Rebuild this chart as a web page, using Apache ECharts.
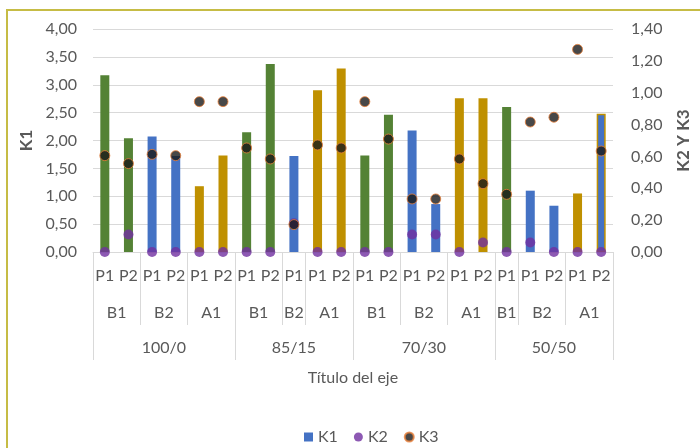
<!DOCTYPE html>
<html>
<head>
<meta charset="utf-8">
<script src="https://cdn.jsdelivr.net/npm/echarts@6/dist/echarts.min.js"></script>
<style>
html,body{margin:0;padding:0;background:#fff;}
#c{width:700px;height:448px;position:relative;}
#frame{position:absolute;left:6px;top:9px;width:800px;height:600px;border:2px solid #C6BC45;pointer-events:none;box-sizing:border-box;}
#wrap{position:relative;width:700px;height:448px;overflow:hidden;}
</style>
</head>
<body>
<div id="wrap"><div id="c"></div><div id="frame"></div></div>
<script>
// Category levels
const pLabels = ['P1','P2','P1','P2','P1','P2', 'P1','P2','P1','P1','P2', 'P1','P2','P1','P2','P1','P2', 'P1','P1','P2','P1','P2'];
const subLabels = ['B1','B1','B2','B2','A1','A1', 'B1','B1','B2','A1','A1', 'B1','B1','B2','B2','A1','A1', 'B1','B2','B2','A1','A1'];
const groupLabels = ['100/0','85/15','70/30','50/50'];
const groupSizes = [6,5,6,5];

// Series values
const k1Values = [3.17,2.04,2.07,1.72,1.18,1.73, 2.15,3.37,1.72,2.90,3.29, 1.73,2.46,2.18,0.86,2.76,2.76, 2.60,1.10,0.83,1.05,2.48];
const k2Values = [0,0.11,0,0,0,0, 0,0,0.18,0,0, 0,0,0.11,0.11,0,0.06, 0,0.06,0,0,0];
const k3Values = [0.605,0.555,0.613,0.605,0.944,0.944, 0.653,0.584,0.172,0.672,0.653, 0.944,0.709,0.333,0.333,0.584,0.429, 0.362,0.816,0.846,1.272,0.634];

// Tick labels
const leftTicks = {min:0,max:4,interval:0.5};
const rightTicks = {min:0,max:1.4,interval:0.2};

const colorBy = {B1:'#548235', B2:'#4472C4', A1:'#BF9000'};
const textColor = '#595959';
const font = 'Lato';

// derive span positions from the labels
const subSpans = [];
(function(){
  let start = 0; let gIdx = 0; let gEnd = groupSizes[0];
  for (let i = 1; i <= subLabels.length; i++) {
    if (i === subLabels.length || subLabels[i] !== subLabels[i-1] || i === gEnd) {
      subSpans.push({start:start, end:i, label:subLabels[start]});
      start = i;
    }
    if (i === gEnd) { gIdx++; gEnd += groupSizes[gIdx] || 0; }
  }
})();
const groupSpans = [];
(function(){
  let s = 0;
  groupSizes.forEach((n,i)=>{ groupSpans.push({start:s,end:s+n,label:groupLabels[i]}); s += n; });
})();
const groupBounds = [0].concat(groupSpans.map(g=>g.end));
const subBounds = subSpans.map(s=>s.end).filter(b=>groupBounds.indexOf(b) < 0);
const subCenters = subSpans.map(s=>(s.start+s.end)/2);
const groupCenters = groupSpans.map(g=>(g.start+g.end)/2);
const subLabelAt = {}; subSpans.forEach(s=>{subLabelAt[(s.start+s.end)/2]=s.label;});
const groupLabelAt = {}; groupSpans.forEach(g=>{groupLabelAt[(g.start+g.end)/2]=g.label;});

const n = pLabels.length;
const barData = k1Values.map((v,i)=>{
  const item = {value:v, itemStyle:{color:colorBy[subLabels[i]]}};
  if (i === n-1) item.itemStyle = {color:colorBy.B2, borderColor:colorBy.A1, borderWidth:1.5};
  return item;
});

const fmt = v => (Math.round(v*100)/100).toFixed(2).replace('.',',');
const gridLine = '#D9D9D9';

const chart = echarts.init(document.getElementById('c'));
chart.setOption({
  animation:false,
  textStyle:{fontFamily:font},
  grid:{left:93, right:81, top:29, bottom:196, containLabel:false},
  legend:{
    left:299, top:424, itemWidth:9, itemHeight:9, itemGap:16,
    textStyle:{color:textColor, fontSize:16, fontFamily:font},
    data:[{name:'K1', icon:'rect'},{name:'K2', icon:'circle'},{name:'K3', icon:'circle'}]
  },
  xAxis:[
    {type:'category', data:pLabels, position:'bottom',
     axisLine:{show:true, onZero:false, lineStyle:{color:gridLine, width:1}},
     axisTick:{show:false},
     axisLabel:{color:textColor, fontSize:16, margin:16, interval:0, fontFamily:font}},
    {type:'value', min:0, max:n, position:'bottom',
     axisLine:{show:false, onZero:false}, splitLine:{show:false},
     axisTick:{show:true, customValues:subBounds, length:73, lineStyle:{color:gridLine}},
     axisLabel:{show:true, customValues:subCenters, margin:53, color:textColor, fontSize:16, fontFamily:font,
       formatter:v=>subLabelAt[v] || ''}},
    {type:'value', min:0, max:n, position:'bottom',
     axisLine:{show:false, onZero:false}, splitLine:{show:false},
     axisTick:{show:true, customValues:groupBounds, length:108, lineStyle:{color:gridLine}},
     axisLabel:{show:true, customValues:groupCenters, margin:88, color:textColor, fontSize:16, fontFamily:font,
       formatter:v=>groupLabelAt[v] || ''},
     name:'Título del eje', nameLocation:'middle', nameGap:118,
     nameTextStyle:{color:textColor, fontSize:16, fontFamily:font}}
  ],
  yAxis:[
    {type:'value', min:leftTicks.min, max:leftTicks.max, interval:leftTicks.interval, position:'left',
     axisLine:{show:false, onZero:false}, axisTick:{show:false},
     splitLine:{show:true, lineStyle:{color:gridLine, width:1}},
     axisLabel:{color:textColor, fontSize:16, margin:16, formatter:fmt, fontFamily:font},
     name:'K1', nameLocation:'middle', nameRotate:90, nameGap:56,
     nameTextStyle:{color:textColor, fontSize:17, fontWeight:'bold', fontFamily:font}},
    {type:'value', min:rightTicks.min, max:rightTicks.max, interval:rightTicks.interval, position:'right',
     alignTicks:false,
     axisLine:{show:false, onZero:false}, axisTick:{show:false}, splitLine:{show:false},
     axisLabel:{color:textColor, fontSize:16, margin:18, formatter:fmt, fontFamily:font},
     name:'K2 Y K3', nameLocation:'middle', nameRotate:90, nameGap:62,
     nameTextStyle:{color:textColor, fontSize:17, fontWeight:'bold', fontFamily:font}}
  ],
  series:[
    {name:'K1', type:'bar', xAxisIndex:0, yAxisIndex:0, barWidth:9, data:barData,
     itemStyle:{color:colorBy.B2}},
    {name:'K2', type:'scatter', xAxisIndex:0, yAxisIndex:1, symbol:'circle', symbolSize:10,
     itemStyle:{color:'#7030A0'}, data:k2Values},
    {name:'K3', type:'scatter', xAxisIndex:0, yAxisIndex:1, symbol:'circle', symbolSize:10,
     itemStyle:{color:'#1A1A1A', borderColor:'#E8803A', borderWidth:1}, data:k3Values}
  ]
});
</script>
</body>
</html>
